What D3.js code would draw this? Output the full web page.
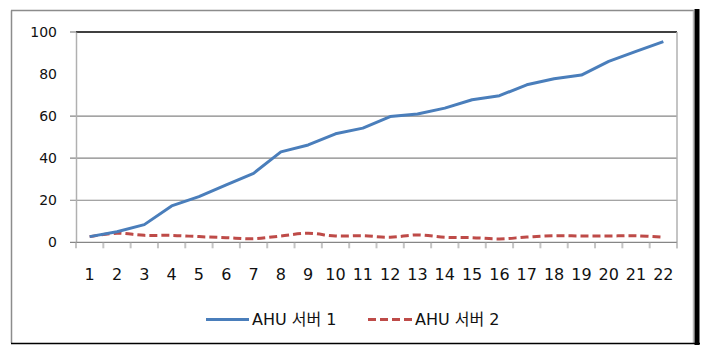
<!DOCTYPE html>
<html>
<head>
<meta charset="utf-8">
<script src="https://cdn.jsdelivr.net/npm/d3@7/dist/d3.min.js"></script>
<style>
  html, body { margin: 0; padding: 0; background: #fff; }
  svg { display: block; }
  text { font-family: "DejaVu Sans", "Noto Sans CJK KR", sans-serif; fill: #111; }
</style>
</head>
<body>
<svg id="chart" width="708" height="345"></svg>
<script>
// Categories (time slots) along the x axis
const categories = d3.range(1, 23).map(String);

// Series values
const ahu1 = [2.7, 5.0, 8.4, 17.3, 21.7, 27.3, 32.8, 43.0, 46.3, 51.6, 54.3, 59.8,
              61.0, 63.8, 67.8, 69.7, 74.9, 77.8, 79.5, 86.0, 90.8, 95.4];
const ahu2 = [2.7, 4.3, 3.3, 3.3, 2.7, 2.2, 1.7, 3.0, 4.3, 3.0, 3.1, 2.4,
              3.5, 2.4, 2.2, 1.6, 2.5, 3.1, 3.0, 3.0, 3.1, 2.4];

const seriesNames = ["AHU 서버 1", "AHU 서버 2"];

// Y axis tick labels and the levels that carry a gridline
const yTicks = [0, 20, 40, 60, 80, 100];
const yGrid = [20, 40, 60];

const svg = d3.select("#chart");
const W = 708, H = 345;

// Outer chart frame
svg.append("line").attr("x1", 11.5).attr("x2", 11.5).attr("y1", 10.5).attr("y2", 343)
  .attr("stroke", "#8c8c8c").attr("stroke-width", 1.5);
svg.append("line").attr("x1", 11).attr("x2", 694).attr("y1", 10.5).attr("y2", 10.5)
  .attr("stroke", "#8c8c8c").attr("stroke-width", 1.5);
svg.append("line").attr("x1", 693.5).attr("x2", 693.5).attr("y1", 10.5).attr("y2", 343)
  .attr("stroke", "#b8b8b8").attr("stroke-width", 1.5);
svg.append("rect").attr("x", 694.5).attr("y", 9).attr("width", 5).attr("height", 336)
  .attr("fill", "#000");
svg.append("line").attr("x1", 11).attr("x2", 700).attr("y1", 343.5).attr("y2", 343.5)
  .attr("stroke", "#000").attr("stroke-width", 1.5);

// Plot area
const plot = { left: 76, right: 677, top: 32, bottom: 242.3 };

const x = d3.scaleBand().domain(categories).range([plot.left, plot.right]);
const y = d3.scaleLinear().domain([0, 100]).range([plot.bottom, plot.top]);

// Gridlines
svg.append("g").selectAll("line").data(yGrid).join("line")
  .attr("x1", plot.left - 6).attr("x2", plot.right)
  .attr("y1", d => y(d)).attr("y2", d => y(d))
  .attr("stroke", "#868686").attr("stroke-width", 1.2);

// Top border of the plot area (at 100)
svg.append("line").attr("x1", plot.left - 6).attr("x2", plot.left)
  .attr("y1", y(100)).attr("y2", y(100)).attr("stroke", "#868686").attr("stroke-width", 1.2);
svg.append("line").attr("x1", plot.left).attr("x2", plot.right)
  .attr("y1", y(100)).attr("y2", y(100)).attr("stroke", "#000").attr("stroke-width", 1.4);
// Right border of the plot area
svg.append("line").attr("x1", plot.right).attr("x2", plot.right)
  .attr("y1", y(100)).attr("y2", y(0) + 6).attr("stroke", "#b0b0b0").attr("stroke-width", 1.5);

// Y axis
const yAxis = d3.axisLeft(y).tickValues(yTicks).tickSize(0).tickPadding(19);
const yG = svg.append("g").attr("transform", `translate(${plot.left},0)`).call(yAxis);
yG.select(".domain").attr("stroke", "#b0b0b0").attr("stroke-width", 1.5);
yG.selectAll("text").style("font-size", "14px").attr("fill", "#111");

// X axis with ticks between categories
svg.append("line").attr("x1", plot.left - 6).attr("x2", plot.right)
  .attr("y1", y(0)).attr("y2", y(0)).attr("stroke", "#868686").attr("stroke-width", 1.2);
const xAxis = d3.axisBottom(x).tickSize(0).tickPadding(26);
const xG = svg.append("g").attr("transform", `translate(0,${y(0)})`).call(xAxis);
xG.select(".domain").remove();
xG.selectAll("text").style("font-size", "16px").attr("fill", "#111");
const boundaries = categories.map(c => x(c)).concat([x(categories[categories.length - 1]) + x.bandwidth()]);
svg.append("g").selectAll("line").data(boundaries).join("line")
  .attr("x1", d => d).attr("x2", d => d)
  .attr("y1", y(0) + 0.5).attr("y2", y(0) + 6)
  .attr("stroke", "#c4c4c4").attr("stroke-width", 2);

// Series lines
const cx = (d, i) => x(categories[i]) + x.bandwidth() / 2;
const line1 = d3.line().x(cx).y(d => y(d)).curve(d3.curveLinear);
const line2 = d3.line().x(cx).y(d => y(d)).curve(d3.curveCatmullRom.alpha(0.5));

svg.append("path").datum(ahu2).attr("d", line2)
  .attr("fill", "none").attr("stroke", "#be4b48").attr("stroke-width", 3)
  .attr("stroke-dasharray", "8,4");
svg.append("path").datum(ahu1).attr("d", line1)
  .attr("fill", "none").attr("stroke", "#4a7ebb").attr("stroke-width", 3)
  .attr("stroke-linejoin", "round");

// Legend
const legendY = 319.5;
const legend = [
  { name: seriesNames[0], color: "#4a7ebb", dash: null, x0: 206, x1: 249, tx: 252 },
  { name: seriesNames[1], color: "#be4b48", dash: "8,4", x0: 368, x1: 412, tx: 415 }
];
const lg = svg.append("g").selectAll("g").data(legend).join("g");
lg.append("line")
  .attr("x1", d => d.x0).attr("x2", d => d.x1)
  .attr("y1", legendY).attr("y2", legendY)
  .attr("stroke", d => d.color).attr("stroke-width", 3)
  .attr("stroke-dasharray", d => d.dash);
lg.append("text")
  .attr("x", d => d.tx).attr("y", legendY)
  .attr("dy", "0.36em")
  .style("font-size", "16px")
  .text(d => d.name);
</script>
</body>
</html>
